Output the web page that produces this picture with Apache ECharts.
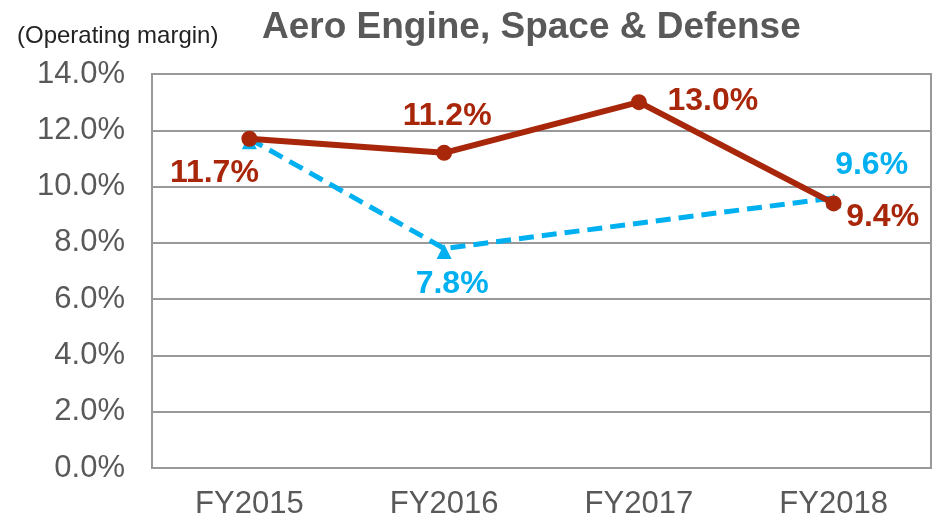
<!DOCTYPE html>
<html>
<head>
<meta charset="utf-8">
<script src="https://cdn.jsdelivr.net/npm/echarts@6/dist/echarts.min.js"></script>
<style>
  html, body { margin: 0; padding: 0; background: #fff; }
  #chartView { width: 938px; height: 520px; }
</style>
</head>
<body>
<div id="chartView"></div>
<script>
var categories = ['FY2015', 'FY2016', 'FY2017', 'FY2018'];
var redValues = [11.7, 11.2, 13.0, 9.4];
var blueValues = [11.7, 7.8, null, 9.6];
var yTicks = [0, 2, 4, 6, 8, 10, 12, 14];

var redColor = '#A8260A';
var blueColor = '#00B0F0';
var textColor = '#595959';
var fontName = 'Arial, "Liberation Sans", sans-serif';

// label offsets from each point (px), null = no label
var redOffsets = [[-35, 34], [3, -37], [74, -1], [49, 14]];
var blueOffsets = [null, [8, 33], null, [38, -36]];

function pct(v) {
	return v.toFixed(1) + '%';
}

function buildData(values, offsets, color) {
	var out = [];
	for (var i = 0; i < values.length; i++) {
		var item = { value: values[i] };
		if (offsets[i] && values[i] != null) {
			item.label = {
				show: true,
				position: 'inside',
				offset: offsets[i],
				color: color,
				fontFamily: fontName,
				fontWeight: 'bold',
				fontSize: 32,
				formatter: function (p) { return pct(p.value); }
			};
		}
		out.push(item);
	}
	return out;
}

var myChart = echarts.init(document.getElementById('chartView'));

var option = {
	animation: false,
	title: [{
		text: 'Aero Engine, Space & Defense',
		left: 257,
		top: 4,
		textStyle: { color: textColor, fontFamily: fontName, fontWeight: 'bold', fontSize: 37 }
	}, {
		text: '(Operating margin)',
		left: 12,
		top: 19,
		textStyle: { color: '#222', fontFamily: fontName, fontWeight: 'normal', fontSize: 24 }
	}],
	grid: {
		left: 152, right: 7, top: 74, bottom: 52,
		show: true, borderColor: '#999', borderWidth: 2
	},
	xAxis: {
		type: 'category',
		data: categories,
		boundaryGap: true,
		axisLine: { show: false },
		axisTick: { show: false },
		axisLabel: { color: textColor, fontFamily: fontName, fontSize: 31, margin: 21 }
	},
	yAxis: {
		type: 'value',
		min: yTicks[0],
		max: yTicks[yTicks.length - 1],
		interval: 2,
		axisLine: { show: false },
		axisTick: { show: false },
		splitLine: { lineStyle: { color: '#999', width: 2 } },
		axisLabel: {
			color: textColor, fontFamily: fontName, fontSize: 31, margin: 27,
			formatter: function (v) { return pct(v); }
		}
	},
	series: [{
		name: 'plan',
		type: 'line',
		data: buildData(blueValues, blueOffsets, blueColor),
		connectNulls: true,
		symbol: 'triangle',
		symbolSize: 15,
		symbolOffset: [0, 3],
		itemStyle: { color: blueColor },
		lineStyle: { color: blueColor, width: 5, type: [15, 8] },
		z: 2
	}, {
		name: 'actual',
		type: 'line',
		data: buildData(redValues, redOffsets, redColor),
		symbol: 'circle',
		symbolSize: 16,
		itemStyle: { color: redColor },
		lineStyle: { color: redColor, width: 6 },
		z: 3
	}]
};

myChart.setOption(option);
</script>
</body>
</html>
